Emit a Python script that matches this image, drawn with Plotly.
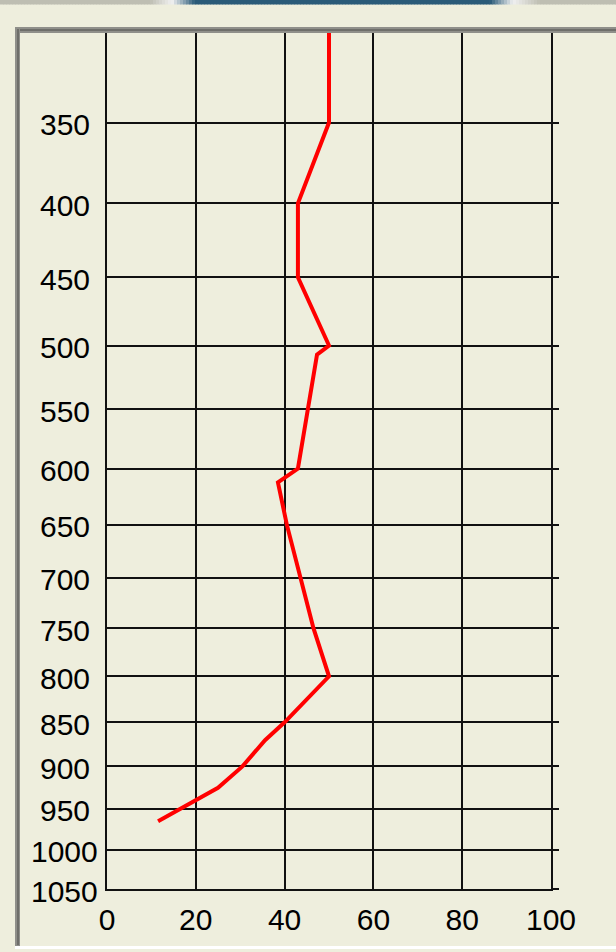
import plotly.graph_objects as go

# ---- data ----
pressure = [300, 350, 400, 450, 500, 507, 600, 612, 650, 700, 750, 800, 825, 850, 870, 900, 925, 940, 965]
values   = [50, 50, 43, 43, 50, 47.3, 43, 38.5, 40.5, 43.5, 46.5, 50, 45, 40, 35.6, 30.5, 25, 20, 11.5]
y_ticks  = [350, 400, 450, 500, 550, 600, 650, 700, 750, 800, 850, 900, 950, 1000, 1050]
x_ticks  = [0, 20, 40, 60, 80, 100]

K = 0.286  # pressure scale exponent (p**K)
def tr(p):
    return p ** K

W, H = 616, 952
L, R, T, B = 107, 551, 33, 889
BG = "#EEEEDD"

fig = go.Figure()
fig.add_trace(go.Scatter(
    x=values, y=[tr(p) for p in pressure], mode="lines",
    line=dict(color="#FF0000", width=4), showlegend=False, hoverinfo="skip"))
# invisible trace for the right axis
fig.add_trace(go.Scatter(x=[None], y=[None], yaxis="y2", showlegend=False))

yr = [tr(1050), tr(300)]
font = dict(family="Liberation Sans, Arial, sans-serif", size=30, color="black")

def px(xp):
    return (xp - L) / (R - L)
def py(yp):
    return (B - yp) / (B - T)

shapes = []
# window frame
shapes.append(dict(type="rect", xref="paper", yref="paper", x0=px(15), x1=px(620), y0=py(33), y1=py(27),
                   fillcolor="#8f8f8a", line=dict(width=0), layer="above"))
shapes.append(dict(type="rect", xref="paper", yref="paper", x0=px(15), x1=px(620), y0=py(31), y1=py(29),
                   fillcolor="#6e6e6a", line=dict(width=0), layer="above"))
shapes.append(dict(type="rect", xref="paper", yref="paper", x0=px(15), x1=px(20), y0=py(946), y1=py(27),
                   fillcolor="#8f8f8a", line=dict(width=0), layer="above"))
shapes.append(dict(type="rect", xref="paper", yref="paper", x0=px(17), x1=px(19), y0=py(945), y1=py(29),
                   fillcolor="#6e6e6a", line=dict(width=0), layer="above"))
shapes.append(dict(type="rect", xref="paper", yref="paper", x0=px(15), x1=px(620), y0=py(949), y1=py(946),
                   fillcolor="#FFFFFF", line=dict(width=0), layer="above"))

# title bar strip gradient
def lerp(c1, c2, t):
    return tuple(int(round(a + (b - a) * t)) for a, b in zip(c1, c2))
gray = (190, 190, 178)
white = (240, 240, 240)
dark = (42, 90, 120)
stops = [(0, gray), (150, gray), (172, white), (195, dark), (490, dark), (513, white), (540, gray), (620, gray)]
step = 3
xx = 0
while xx < 620:
    xm = xx + step / 2
    for i in range(len(stops) - 1):
        a, ca = stops[i]
        b, cb = stops[i + 1]
        if a <= xm <= b:
            c = lerp(ca, cb, (xm - a) / (b - a) if b > a else 0)
            break
    shapes.append(dict(type="rect", xref="paper", yref="paper", x0=px(xx), x1=px(xx + step + 0.5),
                       y0=py(4.5), y1=py(-1), fillcolor="rgb(%d,%d,%d)" % c, line=dict(width=0), layer="above"))
    xx += step

# y tick labels, centred in the label column (as in the reference)
annotations = [dict(x=px(64.5), xref="paper", y=tr(p), yref="y", text=str(p), showarrow=False,
                    xanchor="center", yanchor="middle", yshift=-2, font=font)
               for p in y_ticks]

fig.update_layout(
    width=W, height=H,
    margin=dict(l=L, r=W - R, t=T, b=H - B, pad=0, autoexpand=False),
    paper_bgcolor=BG, plot_bgcolor=BG,
    showlegend=False,
    xaxis=dict(range=[0, 100], tickvals=x_ticks, ticktext=[str(v) for v in x_ticks],
               showgrid=True, gridcolor="#111111", gridwidth=2,
               showline=True, linecolor="#111111", linewidth=2, automargin=False,
               zeroline=False, ticks="", ticklabelstandoff=3, tickfont=font, fixedrange=True),
    yaxis=dict(range=yr, tickvals=[tr(p) for p in y_ticks], showticklabels=False,
               showgrid=True, gridcolor="#111111", gridwidth=2,
               showline=True, linecolor="#111111", linewidth=2, automargin=False,
               zeroline=False, ticks="", fixedrange=True),
    yaxis2=dict(range=yr, overlaying="y", side="right", tickvals=[tr(p) for p in y_ticks],
                showticklabels=False, showgrid=False, ticks="outside", ticklen=6, tickwidth=2,
                tickcolor="#111111", showline=True, linecolor="#111111", linewidth=2, automargin=False,
                zeroline=False, fixedrange=True),
    shapes=shapes,
    annotations=annotations,
)

fig.write_html("out.html", config={"displayModeBar": False},
               post_script="document.body.style.margin='0px';document.body.style.overflow='hidden';document.body.style.background='" + BG + "';")
